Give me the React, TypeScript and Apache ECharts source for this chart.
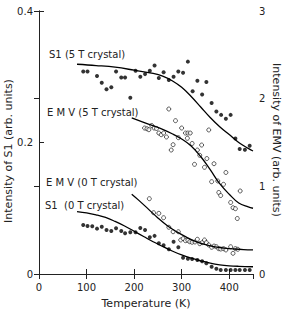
import React, { useEffect, useRef } from "react";
import * as echarts from "echarts";

// S1 (5 T crystal) – left axis
const s1_5T_temps = [93, 102, 122, 132, 142, 152, 162, 173, 181, 192, 203, 213, 223, 233, 243, 252, 262, 273, 283, 293, 303, 313, 323, 333, 343, 352, 363, 373, 383, 393, 403, 413, 422, 433, 443];
const s1_5T_vals = [0.308, 0.308, 0.301, 0.291, 0.281, 0.284, 0.308, 0.299, 0.299, 0.268, 0.309, 0.300, 0.304, 0.309, 0.317, 0.298, 0.307, 0.295, 0.300, 0.308, 0.306, 0.323, 0.278, 0.294, 0.273, 0.292, 0.260, 0.247, 0.242, 0.236, 0.242, 0.206, 0.190, 0.189, 0.195];
const s1_5T_fitT = [80, 120, 160, 200, 240, 260, 280, 300, 320, 340, 360, 380, 400, 420, 440, 450];
const s1_5T_fitV = [0.319, 0.317, 0.3145, 0.310, 0.305, 0.301, 0.294, 0.284, 0.270, 0.254, 0.238, 0.224, 0.212, 0.200, 0.191, 0.187];

// S1 (0 T crystal) – left axis
const s1_0T_temps = [93, 102, 112, 122, 132, 142, 152, 162, 173, 181, 192, 203, 213, 223, 233, 243, 252, 262, 273, 283, 293, 303, 313, 322, 333, 343, 352, 363, 373, 382, 393, 403, 413, 422, 433, 443];
const s1_0T_vals = [0.0745, 0.073, 0.0725, 0.069, 0.072, 0.067, 0.0655, 0.0695, 0.0655, 0.062, 0.0635, 0.0635, 0.070, 0.067, 0.056, 0.058, 0.0467, 0.0437, 0.0376, 0.049, 0.0406, 0.0248, 0.0233, 0.0228, 0.0213, 0.0193, 0.0163, 0.0111, 0.0081, 0.0061, 0.0061, 0.0061, 0.0061, 0.0061, 0.0061, 0.0061];
const s1_0T_fitT = [80, 100, 120, 140, 160, 180, 200, 220, 240, 260, 280, 300, 320, 340, 360, 380, 400, 420, 450];
const s1_0T_fitV = [0.095, 0.093, 0.090, 0.086, 0.080, 0.073, 0.065, 0.057, 0.049, 0.042, 0.035, 0.029, 0.024, 0.020, 0.0165, 0.014, 0.0125, 0.0117, 0.011];

// EMV (5 T crystal) – right axis
const emv_5T_temps = [222, 227, 231, 237, 242, 247, 252, 257, 262, 268, 273, 278, 282, 287, 293, 300, 308, 312, 313, 318, 322, 327, 333, 338, 342, 348, 353, 357, 363, 368, 376, 378, 382, 388, 393, 403, 408, 413, 417, 423];
const emv_5T_vals = [1.665, 1.657, 1.646, 1.694, 1.665, 1.660, 1.608, 1.589, 1.608, 1.563, 1.882, 1.414, 1.475, 1.749, 1.555, 1.665, 1.608, 1.548, 1.608, 1.608, 1.489, 1.251, 1.414, 1.354, 1.471, 1.217, 1.317, 1.643, 1.053, 1.258, 1.061, 0.930, 0.895, 1.023, 1.158, 0.816, 0.756, 0.745, 0.633, 0.947];
const emv_5T_fitT = [195, 230, 260, 280, 300, 320, 340, 360, 380, 400, 420, 440, 450];
const emv_5T_fitV = [1.78, 1.71, 1.65, 1.60, 1.54, 1.46, 1.34, 1.19, 1.03, 0.91, 0.81, 0.765, 0.75];

// EMV (0 T crystal) – right axis
const emv_0T_temps = [232, 241, 252, 262, 273, 282, 293, 298, 303, 308, 313, 317, 322, 328, 333, 338, 343, 348, 352, 357, 363, 368, 373, 378, 382, 388, 393, 403, 408, 413, 418];
const emv_0T_vals = [0.859, 0.699, 0.692, 0.642, 0.533, 0.482, 0.482, 0.388, 0.403, 0.380, 0.384, 0.368, 0.362, 0.365, 0.396, 0.346, 0.357, 0.388, 0.357, 0.331, 0.305, 0.319, 0.311, 0.289, 0.285, 0.289, 0.274, 0.311, 0.236, 0.289, 0.282];
const emv_0T_fitT = [195, 210, 230, 250, 270, 290, 310, 330, 350, 370, 390, 410, 430, 450];
const emv_0T_fitV = [0.91, 0.84, 0.74, 0.64, 0.55, 0.48, 0.42, 0.37, 0.335, 0.31, 0.295, 0.285, 0.278, 0.275];

const labels = [
  { text: "S1 (5 T crystal)", x: 49, y: 54 },
  { text: "E M V (5 T crystal)", x: 47, y: 112 },
  { text: "E M V (0 T crystal)", x: 46, y: 182 },
  { text: "S1  (0 T crystal)", x: 45, y: 205 },
];

const zip = (a: number[], b: number[]) => a.map((v, i) => [v, b[i]]);

const FONT = "DejaVu Sans";
const INK = "#222";

export default function App() {
  const ref = useRef<HTMLDivElement>(null);
  useEffect(() => {
    if (!ref.current) return;
    const chart = echarts.init(ref.current, undefined, { renderer: "svg" });
    const axisLine = { show: true, lineStyle: { color: INK, width: 1 } };
    const axisTick = { show: true, inside: true, length: 5, lineStyle: { color: INK, width: 1 } };
    const axisLabel = { color: INK, fontSize: 10, fontFamily: FONT };
    const dots = (d: number[][], yi: number) => ({
      type: "scatter", yAxisIndex: yi, data: d, symbol: "circle", symbolSize: 4,
      itemStyle: { color: "#000" }, silent: true,
    });
    const rings = (d: number[][], yi: number) => ({
      type: "scatter", yAxisIndex: yi, data: d, symbol: "circle", symbolSize: 4,
      itemStyle: { color: "#fff", borderColor: "#000", borderWidth: 0.8 }, silent: true,
    });
    const fit = (d: number[][], yi: number) => ({
      type: "line", yAxisIndex: yi, data: d, smooth: 0.4, showSymbol: false,
      lineStyle: { color: "#000", width: 1.3 }, silent: true,
    });
    chart.setOption({
      animation: false,
      grid: { left: 39, right: 34, top: 11, bottom: 36 },
      xAxis: [
        {
          type: "value", min: 0, max: 450, interval: 100, position: "bottom",
          axisLine, axisTick, splitLine: { show: false },
          axisLabel: { ...axisLabel, margin: 8, showMaxLabel: false },
        },
        {
          type: "value", min: 0, max: 450, interval: 100, position: "top",
          axisLine, axisTick, splitLine: { show: false }, axisLabel: { show: false },
        },
      ],
      yAxis: [
        {
          type: "value", min: 0, max: 0.4, interval: 0.2, position: "left",
          axisLine, axisTick, splitLine: { show: false }, axisLabel: { ...axisLabel, margin: 6 },
        },
        {
          type: "value", min: 0, max: 3, interval: 1, position: "right",
          axisLine, axisTick, splitLine: { show: false }, axisLabel: { ...axisLabel, margin: 6 },
        },
      ],
      graphic: [
        ...labels.map((l) => ({
          type: "text", x: l.x, y: l.y,
          style: { text: l.text, fill: INK, fontSize: 10, fontFamily: FONT, verticalAlign: "middle", align: "left" },
        })),
        {
          type: "text", x: 146, y: 303,
          style: { text: "Temperature (K)", fill: INK, fontSize: 11, fontFamily: FONT, verticalAlign: "middle", align: "center" },
        },
        {
          type: "text", x: 8, y: 151, rotation: Math.PI / 2,
          style: { text: "Intensity of S1 (arb. units)", fill: INK, fontSize: 11, fontFamily: FONT, verticalAlign: "middle", align: "center" },
        },
        {
          type: "text", x: 276, y: 140, rotation: -Math.PI / 2,
          style: { text: "Intensity of EMV (arb. units)", fill: INK, fontSize: 11, fontFamily: FONT, verticalAlign: "middle", align: "center" },
        },
      ],
      series: [
        fit(zip(s1_5T_fitT, s1_5T_fitV), 0),
        fit(zip(s1_0T_fitT, s1_0T_fitV), 0),
        fit(zip(emv_5T_fitT, emv_5T_fitV), 1),
        fit(zip(emv_0T_fitT, emv_0T_fitV), 1),
        dots(zip(s1_5T_temps, s1_5T_vals), 0),
        dots(zip(s1_0T_temps, s1_0T_vals), 0),
        rings(zip(emv_5T_temps, emv_5T_vals), 1),
        rings(zip(emv_0T_temps, emv_0T_vals), 1),
      ],
    });
    return () => chart.dispose();
  }, []);
  return <div ref={ref} style={{ width: 287, height: 310, position: "absolute", left: 0, top: 0 }} />;
}
